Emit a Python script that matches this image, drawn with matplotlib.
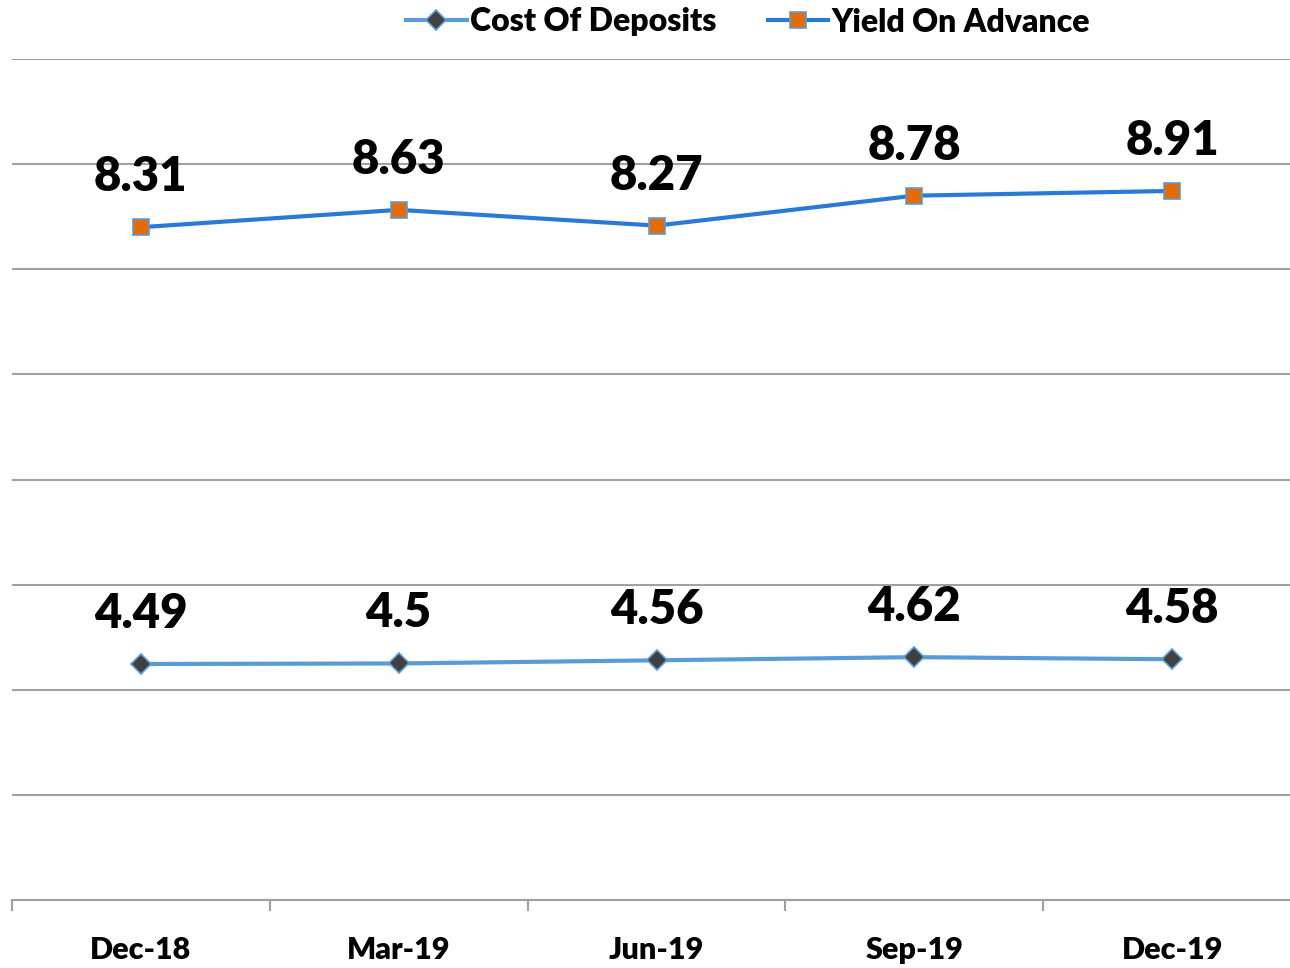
import matplotlib
matplotlib.use("Agg")
from matplotlib import pyplot as plt
import numpy as np

quarters = ["Dec-18", "Mar-19", "Jun-19", "Sep-19", "Dec-19"]
cost_of_deposits = [4.49, 4.5, 4.56, 4.62, 4.58]
yield_on_advance = [8.31, 8.63, 8.27, 8.78, 8.91]

plt.rcParams['font.family'] = ['Lato', 'DejaVu Sans']

fig = plt.figure(figsize=(12.9, 9.68), dpi=100)
# axis spans past right edge like the original (clipped)
ax = fig.add_axes([12 / 1290, 68 / 968, 1289 / 1290, 841 / 968])

x = np.arange(len(quarters))
cost = np.array(cost_of_deposits)
# stacked line chart: second series sits on top of the first
stacked = cost + np.array(yield_on_advance)

line1, = ax.plot(x, cost, color="#5B9BD5", lw=3, marker="D", ms=10,
                 markerfacecolor="#404040", markeredgecolor="#5B9BD5", markeredgewidth=1.2)
line2, = ax.plot(x, stacked, color="#2A7AD5", lw=3, marker="s", ms=12,
                 markerfacecolor="#E36C09", markeredgecolor="#5B9BD5", markeredgewidth=1.2)

for i in range(len(x)):
    ax.annotate(str(cost_of_deposits[i]), (x[i], cost[i]), xytext=(0, 36),
                textcoords="offset points", ha="center", va="center",
                fontsize=34, fontweight="heavy")
    ax.annotate(str(yield_on_advance[i]), (x[i], stacked[i]), xytext=(0, 36),
                textcoords="offset points", ha="center", va="center",
                fontsize=34, fontweight="heavy")

ax.set_xlim(-0.5, 4.5)
ax.set_ylim(0, 16)
ax.set_yticks(np.arange(0, 17, 2))
ax.yaxis.grid(True, color="#A0A0A0", lw=1.5)
ax.set_axisbelow(True)
ax.tick_params(axis="y", left=False, labelleft=False)

ax.set_xticks(x)
ax.set_xticklabels(quarters, fontsize=22, fontweight="heavy")
ax.set_xticks(np.arange(-0.5, 5, 1), minor=True)
ax.tick_params(axis="x", which="major", length=0, pad=26)
ax.tick_params(axis="x", which="minor", length=8, width=1.5, color="#A0A0A0", direction="out")

for side in ["top", "right", "left"]:
    ax.spines[side].set_visible(False)
ax.spines["bottom"].set_color("#A0A0A0")
ax.spines["bottom"].set_linewidth(1.5)

fig.legend((line1, line2), ("Cost Of Deposits", "Yield On Advance"),
           loc="center", bbox_to_anchor=(748 / 1290, 1 - 22 / 968), ncol=2,
           frameon=False, prop={"size": 23, "weight": "heavy"},
           handlelength=1.9, handletextpad=0.1, columnspacing=1.6)

fig.savefig("out.png", dpi=100)
